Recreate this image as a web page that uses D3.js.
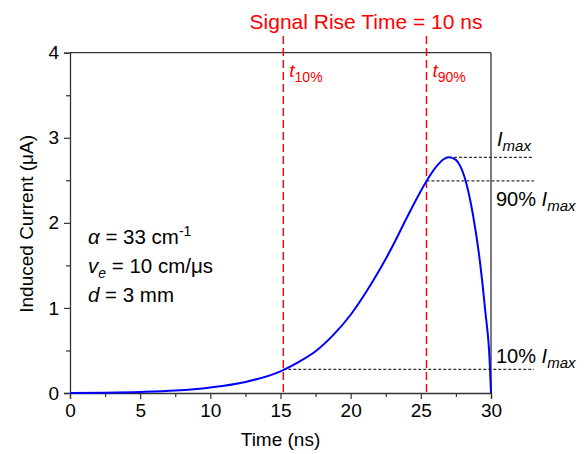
<!DOCTYPE html>
<html>
<head>
<meta charset="utf-8">
<script src="https://cdn.jsdelivr.net/npm/d3@7"></script>
<style>
  html, body { margin: 0; padding: 0; background: #fff; }
  svg { display: block; font-family: "Liberation Sans", Arial, sans-serif; }
</style>
</head>
<body>
<svg id="chart" width="586" height="454"></svg>
<script>
// ---- data ----
const timeNs = [0, 2.5, 5, 7.5, 10, 12.5, 15, 16.25, 17.5, 18.75, 20, 21, 22, 23, 24, 25.4, 26.1, 26.6, 27.0, 27.5, 27.8, 28.2, 28.7, 29.2, 29.6, 29.9, 30];
const currentUA = [0, 0.004, 0.012, 0.028, 0.065, 0.13, 0.255, 0.36, 0.49, 0.68, 0.92, 1.16, 1.43, 1.73, 2.06, 2.49, 2.66, 2.745, 2.77, 2.74, 2.67, 2.49, 2.11, 1.56, 0.95, 0.39, 0];
const xTicks = [0, 5, 10, 15, 20, 25, 30];
const yTicks = [0, 1, 2, 3, 4];
const t10 = 15.2, t90 = 25.4;
const iMax = 2.77, tMax = 27.0;
const i10 = 0.1 * iMax, i90 = 0.9 * iMax;

const svg = d3.select("#chart");
const m = { left: 70, right: 95, top: 52.7, bottom: 61 };
const W = 586, H = 454;
const x = d3.scaleLinear().domain([0, 30]).range([m.left, W - m.right]);
const y = d3.scaleLinear().domain([0, 4]).range([H - m.bottom, m.top]);
const axisColor = "#333";

// frame top & right
svg.append("line").attr("x1", x(0)).attr("x2", x(30)).attr("y1", y(4)).attr("y2", y(4))
  .attr("stroke", axisColor).attr("stroke-width", 1.3);
svg.append("line").attr("x1", x(30)).attr("x2", x(30)).attr("y1", y(0)).attr("y2", y(4))
  .attr("stroke", axisColor).attr("stroke-width", 1.3);

// x axis
svg.append("g").attr("transform", `translate(0,${y(0)})`)
  .call(d3.axisBottom(x).tickValues(xTicks).tickSize(6).tickPadding(5).tickFormat(d3.format("d")));
svg.append("g").attr("transform", `translate(0,${y(0)})`)
  .call(d3.axisBottom(x).tickValues(d3.range(2.5, 30, 5)).tickSize(4).tickFormat(""))
  .call(g => g.select(".domain").remove());
// y axis
svg.append("g").attr("transform", `translate(${x(0)},0)`)
  .call(d3.axisLeft(y).tickValues(yTicks).tickSize(6).tickPadding(5).tickFormat(d3.format("d")));
svg.append("g").attr("transform", `translate(${x(0)},0)`)
  .call(d3.axisLeft(y).tickValues(d3.range(0.5, 4, 1)).tickSize(4).tickFormat(""))
  .call(g => g.select(".domain").remove());

svg.selectAll(".domain").attr("stroke", axisColor).attr("stroke-width", 1.3);
svg.selectAll(".tick line").attr("stroke", axisColor).attr("stroke-width", 1.2);
svg.selectAll(".tick text").attr("font-size", 19).attr("fill", "#000")
  .attr("font-family", "Liberation Sans, Arial, sans-serif");

// axis titles
svg.append("text").attr("x", x(15)).attr("y", 446).attr("text-anchor", "middle")
  .attr("font-size", 19).text("Time (ns)");
svg.append("text").attr("transform", `translate(33,${y(2) + 1}) rotate(-90)`)
  .attr("text-anchor", "middle").attr("font-size", 19).text("Induced Current (μA)");

// black dotted reference lines
const ref = [
  { t0: tMax, v: iMax },
  { t0: t90, v: i90 },
  { t0: t10, v: i10 }
];
svg.selectAll(".refline").data(ref).join("line")
  .attr("x1", d => x(d.t0)).attr("x2", 534)
  .attr("y1", d => y(d.v)).attr("y2", d => y(d.v))
  .attr("stroke", "#333").attr("stroke-width", 1.2).attr("stroke-dasharray", "3,2");

// red dashed vertical lines
[t10, t90].forEach(t => {
  svg.append("line").attr("x1", x(t)).attr("x2", x(t)).attr("y1", 36).attr("y2", y(0))
    .attr("stroke", "#ff0000").attr("stroke-width", 1.4).attr("stroke-dasharray", "8,4");
});

// curve
const line = d3.line().x((d, i) => x(timeNs[i])).y(d => y(d)).curve(d3.curveMonotoneX);
svg.append("path").attr("d", line(currentUA)).attr("fill", "none")
  .attr("stroke", "#0000ff").attr("stroke-width", 2);

// red title & t labels
svg.append("text").attr("x", 366).attr("y", 29).attr("text-anchor", "middle")
  .attr("font-size", 21).attr("fill", "#ff0000").text("Signal Rise Time = 10 ns");
function tLabel(t, sub) {
  const tx = svg.append("text").attr("x", x(t) + 6).attr("y", 77).attr("fill", "#ff0000").attr("font-size", 19);
  tx.append("tspan").attr("font-style", "italic").text("t");
  tx.append("tspan").attr("font-size", 14).attr("dy", 5).text(sub);
}
tLabel(t10, "10%");
tLabel(t90, "90%");

// I labels on the right
function iLabel(px, py, prefix) {
  const tx = svg.append("text").attr("x", px).attr("y", py).attr("font-size", 20).attr("fill", "#000");
  if (prefix) tx.append("tspan").text(prefix);
  tx.append("tspan").attr("font-style", "italic").text("I");
  tx.append("tspan").attr("font-style", "italic").attr("font-size", 15).attr("dy", 5).text("max");
}
iLabel(497, 146, null);
iLabel(496, 206, "90% ");
iLabel(496, 363, "10% ");

// parameter annotations
const ann = svg.append("g").attr("font-size", 20.5).attr("fill", "#000");
const a1 = ann.append("text").attr("x", 88).attr("y", 244);
a1.append("tspan").attr("font-style", "italic").text("α");
a1.append("tspan").text(" = 33 cm");
a1.append("tspan").attr("font-size", 14).attr("dy", -8).text("-1");
const a2 = ann.append("text").attr("x", 88).attr("y", 273);
a2.append("tspan").attr("font-style", "italic").text("v");
a2.append("tspan").attr("font-style", "italic").attr("font-size", 14).attr("dy", 5).text("e");
a2.append("tspan").attr("dy", -5).text(" = 10 cm/μs");
const a3 = ann.append("text").attr("x", 88).attr("y", 302);
a3.append("tspan").attr("font-style", "italic").text("d");
a3.append("tspan").text(" = 3 mm");
</script>
</body>
</html>
